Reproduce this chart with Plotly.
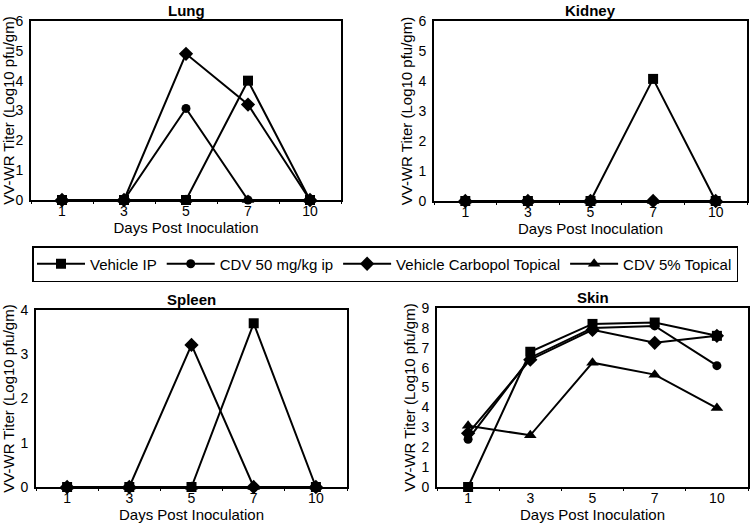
import plotly.graph_objects as go

days = ['1', '3', '5', '7', '10']
series_names = ['Vehicle IP', 'CDV 50 mg/kg ip', 'Vehicle Carbopol Topical', 'CDV 5% Topical']

lung_vehicle_ip = [0, 0, 0, 4.0, 0]
lung_cdv50 = [0, 0, 3.07, 0, 0]
lung_carbopol = [0, 0, 4.9, 3.2, 0]
lung_cdv5 = [0, 0, 0, 0, 0]

kidney_vehicle_ip = [0, 0, 0, 4.07, 0]
kidney_cdv50 = [0, 0, 0, 0, 0]
kidney_carbopol = [0, 0, 0, 0, 0]
kidney_cdv5 = [0, 0, 0, 0, 0]

spleen_vehicle_ip = [0, 0, 0, 3.7, 0]
spleen_cdv50 = [0, 0, 0, 0, 0]
spleen_carbopol = [0, 0, 3.21, 0, 0]
spleen_cdv5 = [0, 0, 0, 0, 0]

skin_vehicle_ip = [0, 6.8, 8.2, 8.27, 7.6]
skin_cdv50 = [2.4, 6.5, 8.0, 8.1, 6.1]
skin_carbopol = [2.7, 6.4, 7.9, 7.25, 7.6]
skin_cdv5 = [3.08, 2.6, 6.25, 5.65, 3.97]

panels = [
    ('Lung', [lung_vehicle_ip, lung_cdv50, lung_carbopol, lung_cdv5], 6),
    ('Kidney', [kidney_vehicle_ip, kidney_cdv50, kidney_carbopol, kidney_cdv5], 6),
    ('Spleen', [spleen_vehicle_ip, spleen_cdv50, spleen_carbopol, spleen_cdv5], 4),
    ('Skin', [skin_vehicle_ip, skin_cdv50, skin_carbopol, skin_cdv5], 9),
]

W, H = 753, 525
def px(v):
    return v / W
def py(v):
    return 1 - v / H

# plot boxes in pixels: (left, right, top, bottom)
boxes = [(31, 341, 21, 200), (434, 747, 21, 201), (36, 347, 310, 487), (437, 748, 308, 487)]

symbols = ['square', 'circle', 'diamond', 'triangle-up']
sizes = [10, 9, 11, 11]
FONT = 'Arial, Liberation Sans, sans-serif'

fig = go.Figure()
layout = {}
annotations = []
for i, ((name, series, ymax), (l, r, t, b)) in enumerate(zip(panels, boxes)):
    n = '' if i == 0 else str(i + 1)
    xa, ya = 'x' + n, 'y' + n
    for j, vals in enumerate(series):
        fig.add_trace(go.Scatter(
            x=days, y=vals, xaxis=xa, yaxis=ya, mode='lines+markers',
            name=series_names[j], legendgroup=series_names[j], showlegend=(i == 0),
            line=dict(color='black', width=2),
            marker=dict(symbol=symbols[j], size=sizes[j], color='black'),
            cliponaxis=False,
        ))
    layout['xaxis' + n] = dict(
        domain=[px(l), px(r)], anchor=ya, type='category', range=[-0.5, 4.5],
        showline=True, mirror=True, linecolor='black', linewidth=2,
        showgrid=False, zeroline=False, ticks='outside', tickson='boundaries',
        ticklen=2, tickcolor='black', tickfont=dict(size=14, color='black'),
        automargin=False, ticklabelstandoff=-3,
        title=dict(text='Days Post Inoculation', font=dict(size=15, color='black'), standoff=0),
    )
    layout['yaxis' + n] = dict(
        domain=[py(b), py(t)], anchor=xa, range=[0, ymax], dtick=1,
        showline=True, mirror=True, linecolor='black', linewidth=2,
        showgrid=False, zeroline=False, ticks='', ticklabelstandoff=3,
        tickfont=dict(size=14, color='black'), automargin=False,
        title=dict(text='VV-WR Titer (Log10 pfu/gm)', font=dict(size=15, color='black'), standoff=2),
    )
    annotations.append(dict(
        text='<b>' + name + '</b>', x=px((l + r) / 2), y=py(t - 11),
        xref='paper', yref='paper', showarrow=False, xanchor='center', yanchor='middle',
        font=dict(size=15, color='black'),
    ))

fig.update_layout(
    **layout,
    annotations=annotations,
    width=W, height=H,
    margin=dict(l=0, r=0, t=0, b=0),
    paper_bgcolor='white', plot_bgcolor='white',
    font=dict(family=FONT, color='black'),
    showlegend=True,
    legend=dict(
        orientation='h', x=px(32), y=py(246), xanchor='left', yanchor='top',
        bordercolor='black', borderwidth=1.5, font=dict(size=15, color='black'),
        itemwidth=48, tracegroupgap=0,
    ),
)

fig.write_html('out.html', config={'displayModeBar': False},
               post_script="document.body.style.margin='0';document.body.style.overflow='hidden';")
